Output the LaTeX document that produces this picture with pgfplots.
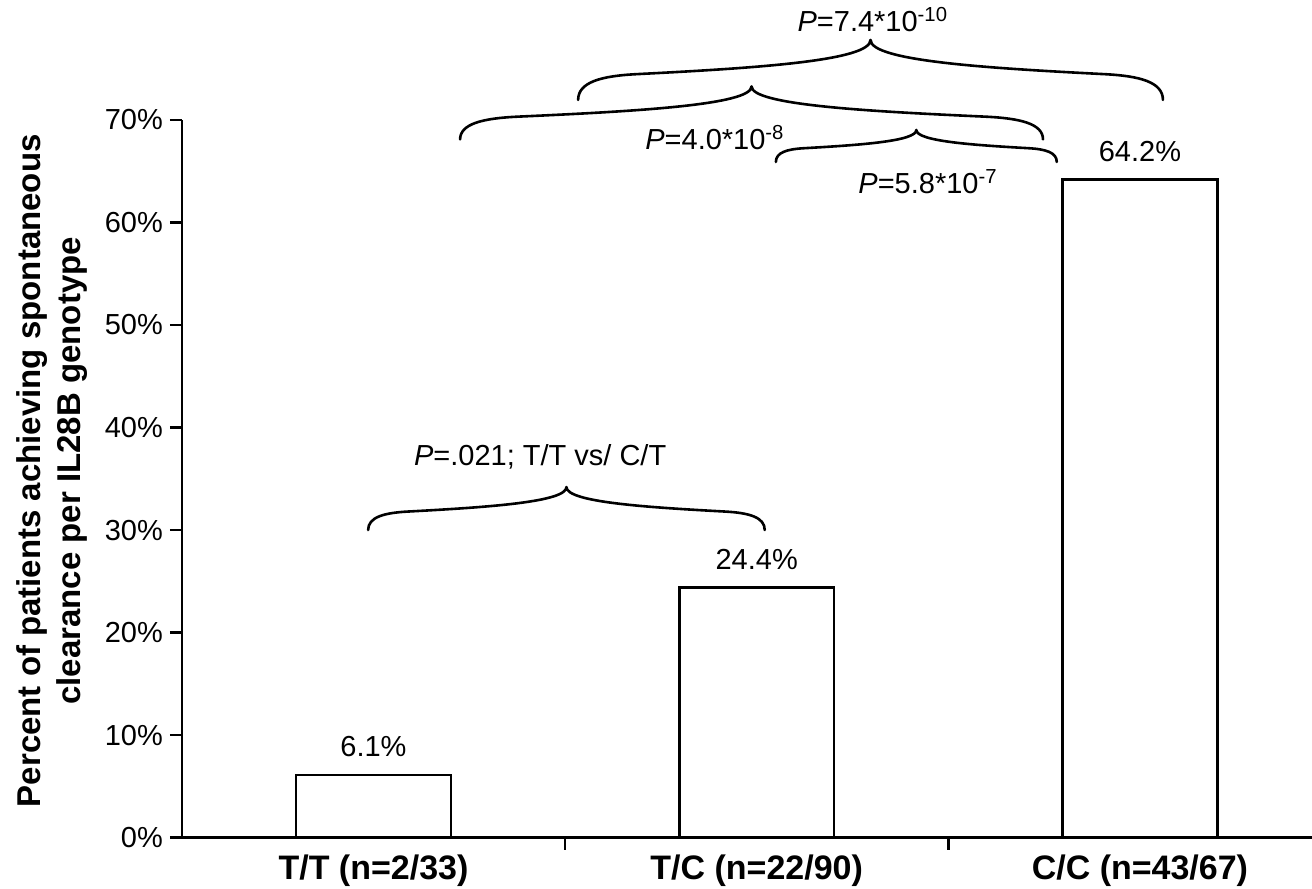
\documentclass[border=0pt]{standalone}
\usepackage{pgfplots}
\pgfplotsset{compat=1.18}
\usepackage{fontspec}
\setmainfont{Liberation Sans}

% curly brace: #1 = left x, #2 = right x, #3 = y (axis units), #4 = amplitude (pt)
\newcommand{\cbrace}[4]{%
 \draw[line width=1.3pt, line cap=round, line join=round]
  (axis cs:#1,#3)
  .. controls ([yshift=0.30*#4]axis cs:#1,#3) and ([yshift=0.40*#4]axis cs:{#1+0.04*(#2-#1)},#3)
  .. ([yshift=0.43*#4]axis cs:{#1+0.10*(#2-#1)},#3)
  .. controls ([yshift=0.53*#4]axis cs:{#1+0.30*(#2-#1)},#3) and ([yshift=0.65*#4]axis cs:{#1+0.5*(#2-#1)},#3)
  .. ([yshift=#4]axis cs:{#1+0.5*(#2-#1)},#3)
  .. controls ([yshift=0.65*#4]axis cs:{#1+0.5*(#2-#1)},#3) and ([yshift=0.53*#4]axis cs:{#1+0.70*(#2-#1)},#3)
  .. ([yshift=0.43*#4]axis cs:{#1+0.90*(#2-#1)},#3)
  .. controls ([yshift=0.40*#4]axis cs:{#1+0.96*(#2-#1)},#3) and ([yshift=0.30*#4]axis cs:#2,#3)
  .. (axis cs:#2,#3);}

\begin{document}
\begin{tikzpicture}
\begin{axis}[
 scale only axis,
 width=565.5pt, height=359pt,
 xmin=-0.5, xmax=2.45,
 ymin=0, ymax=70,
 axis x line=bottom, axis y line=left,
 axis line style={-, line width=1.2pt},
 tick align=outside,
 major tick length=6pt, minor tick length=6pt,
 xtick={0,1,2},
 xticklabels={T/T (n=2/33), T/C (n=22/90), C/C (n=43/67)},
 x tick label style={font=\fontsize{17}{20}\selectfont\bfseries, yshift=1pt},
 major x tick style={draw=none},
 minor xtick={0.5,1.5},
 minor x tick style={line width=1.2pt, black},
 ytick={0,10,...,70},
 yticklabel={\pgfmathprintnumber{\tick}\%},
 y tick label style={font=\fontsize{14.5}{17}\selectfont},
 y tick style={line width=1.2pt, black},
 /pgf/number format/assume math mode=true,
 ylabel={Percent of patients achieving spontaneous\\clearance per IL28B genotype},
 ylabel style={align=center, font=\fontsize{16.5}{20}\selectfont\bfseries, xshift=4pt, yshift=2pt},
 clip=false,
 ybar, bar width=0.404,
 nodes near coords={\pgfmathprintnumber[fixed,fixed zerofill,precision=1]{\pgfplotspointmeta}\%},
 nodes near coords style={font=\fontsize{14.5}{17}\selectfont, yshift=5pt},
]
\addplot[fill=white, draw=black, line width=1.2pt] coordinates {(0,6.1) (1,24.4) (2,64.2)};

\cbrace{0.534}{2.060}{71.95}{30pt}
\cbrace{0.226}{1.747}{68.1}{26.5pt}
\cbrace{1.050}{1.783}{65.9}{16pt}
\cbrace{-0.014}{1.021}{30}{21.5pt}

\node[font=\fontsize{14.5}{17}\selectfont] at (axis cs:1.303,79.8) {\textit{P}=7.4*10\textsuperscript{-10}};
\node[font=\fontsize{14.5}{17}\selectfont] at (axis cs:0.891,68.3) {\textit{P}=4.0*10\textsuperscript{-8}};
\node[font=\fontsize{14.5}{17}\selectfont] at (axis cs:1.447,64.0) {\textit{P}=5.8*10\textsuperscript{-7}};
\node[font=\fontsize{14.5}{17}\selectfont] at (axis cs:0.435,37.1) {\textit{P}=.021; T/T vs/ C/T};

\coordinate (bbsw) at (axis cs:-0.9746,-4.97);
\coordinate (bbne) at (axis cs:2.449,81.7);
\end{axis}
\pgfresetboundingbox
\path (bbsw) rectangle (bbne);
\end{tikzpicture}
\end{document}
